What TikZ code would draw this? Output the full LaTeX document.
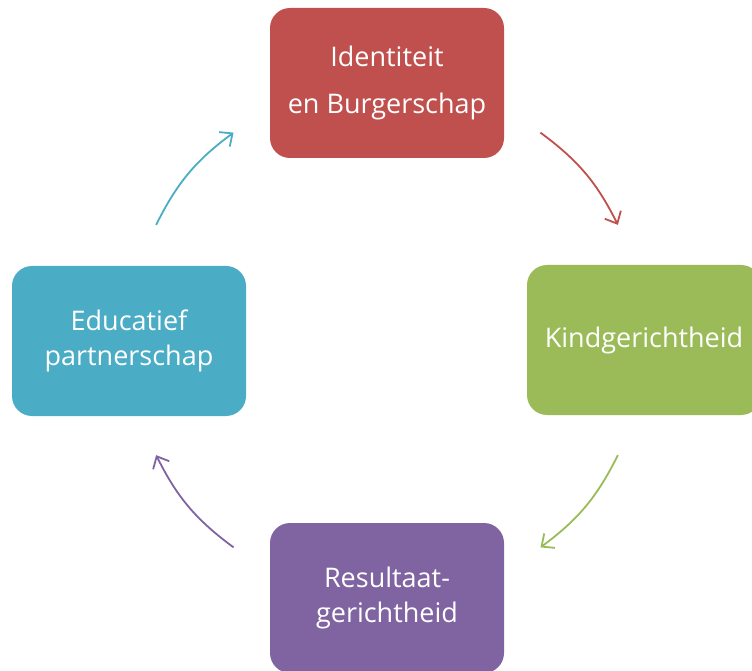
\documentclass[tikz,border=0pt]{standalone}
\usepackage{fontspec}
\setmainfont{Open Sans}
\usetikzlibrary{calc,positioning,arrows.meta}
\definecolor{boxred}{RGB}{192,80,77}
\definecolor{boxgreen}{RGB}{155,187,89}
\definecolor{boxpurple}{RGB}{128,100,162}
\definecolor{boxteal}{RGB}{75,172,198}
\tikzset{
  cyclebox/.style={rounded corners=20pt, minimum width=234pt, minimum height=150pt,
    inner sep=0pt, text=white, align=center, font=\fontsize{27}{35}\selectfont},
  cyclearrow/.style={line width=1.8pt, -{Straight Barb[length=10pt,width=18pt,line width=1.8pt]}}
}

\begin{document}
\begin{tikzpicture}[x=1pt, y=1pt]
    \useasboundingbox (0,0) rectangle (752,670);
    \coordinate (c) at (387,330);
    \node [cyclebox, fill=boxred, font=\fontsize{27}{47}\selectfont] (id) at (387,587) {Identiteit\\en Burgerschap};
    \node [cyclebox, fill=boxgreen] (kind) at (644,330) {Kindgerichtheid};
    \node [cyclebox, fill=boxpurple] (res) at (387,72) {Resultaat-\\gerichtheid};
    \node [cyclebox, fill=boxteal] (edu) at (129,329) {Educatief\\partnerschap};
    \coordinate (a1) at ($(c)+(53.5:258)$);
    \coordinate (a2) at ($(c)+(26.5:258)$);
    \coordinate (b1) at ($(c)+(-26.5:258)$);
    \coordinate (b2) at ($(c)+(-53.5:258)$);
    \coordinate (d1) at ($(c)+(-126.5:258)$);
    \coordinate (d2) at ($(c)+(-153.5:258)$);
    \coordinate (e1) at ($(c)+(153.5:258)$);
    \coordinate (e2) at ($(c)+(126.5:258)$);
    \draw [cyclearrow, boxred] (a1) to [bend left=13.5] (a2);
    \draw [cyclearrow, boxgreen] (b1) to [bend left=13.5] (b2);
    \draw [cyclearrow, boxpurple] (d1) to [bend left=13.5] (d2);
    \draw [cyclearrow, boxteal] (e1) to [bend left=13.5] (e2);
\end{tikzpicture}
\end{document}
